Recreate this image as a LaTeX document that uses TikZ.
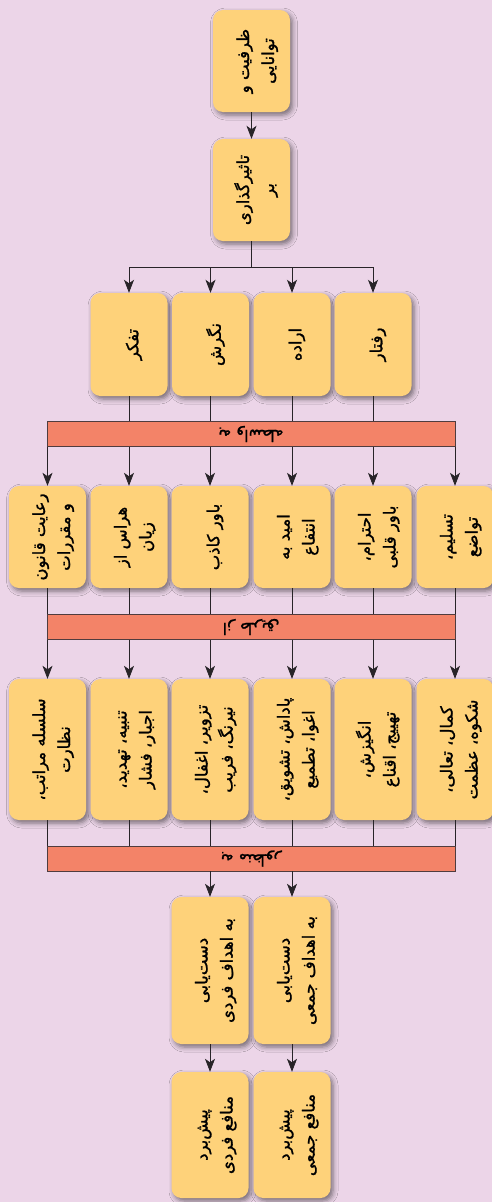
\documentclass[tikz,border=0pt]{standalone}
\usepackage{fontspec}
\newfontfamily\fa[Script=Arabic,FakeBold=1.3]{DejaVu Sans}
\TeXXeTstate=1
\usetikzlibrary{arrows.meta,shadows.blur}

\definecolor{bg}{RGB}{236,213,232}
\definecolor{boxfill}{RGB}{254,210,122}
\definecolor{barfill}{RGB}{243,131,104}
\definecolor{barline}{RGB}{80,60,62}
\definecolor{wire}{RGB}{40,36,40}

% text turned a quarter turn, first line on the left, set a little right of centre
\newcommand\vone[1]{\hspace*{10pt}\rotatebox{90}{#1}}
\newcommand\vtwo[2]{\hspace*{10pt}\rotatebox{90}{\begin{tabular}{@{}c@{}}#1\\#2\end{tabular}}}
% bar captions, turned upside down
\newcommand\flip[1]{\rotatebox{180}{#1}}

\tikzset{
  box/.style={fill=boxfill, rounded corners=10pt, minimum width=77pt, inner sep=0pt,
    blur shadow={shadow xshift=2.5pt, shadow yshift=-3pt, shadow blur radius=5pt, shadow opacity=50},
    font=\fa\fontsize{16.5}{25}\selectfont},
  bar/.style={fill=barfill, draw=barline, line width=0.8pt, minimum width=408pt,
    minimum height=25pt, inner sep=0pt, font=\fa\fontsize{16}{18}\selectfont},
  wire/.style={draw=wire, line width=0.8pt},
  arr/.style={wire, -{Stealth[length=13pt,width=10pt,inset=3.5pt]}},
}

\begin{document}
\begin{tikzpicture}[x=1pt,y=-1pt]
\fill[bg] (0,0) rectangle (492,1202);
\useasboundingbox (0,0) rectangle (492,1202);

% source chain
\node[box, minimum height=102pt] (p1) at (251.5,61) {\vtwo{\beginR ظرفیت و\endR}{\beginR توانایی\endR}};
\node[box, minimum height=102pt] (p2) at (251.5,190) {\vtwo{\beginR تاثیرگذاری\endR}{\beginR بر\endR}};

% four targets
\node[box, minimum height=103pt] (t1) at (129,344.5) {\vone{\beginR تفکر\endR}};
\node[box, minimum height=103pt] (t2) at (210.5,344.5) {\vone{\beginR نگرش\endR}};
\node[box, minimum height=103pt] (t3) at (292,344.5) {\vone{\beginR اراده\endR}};
\node[box, minimum height=103pt] (t4) at (373,344.5) {\vone{\beginR رفتار\endR}};

\node[bar] (b1) at (251,434) {\flip{\beginR به واسطه\endR}};

% bases
\node[box, minimum height=102pt] (s1) at (47.5,537) {\vtwo{\beginR رعایت قانون\endR}{\beginR و مقررات\endR}};
\node[box, minimum height=102pt] (s2) at (129,537) {\vtwo{\beginR هراس از\endR}{\beginR زیان\endR}};
\node[box, minimum height=102pt] (s3) at (210,537) {\vone{\beginR باور کاذب\endR}};
\node[box, minimum height=102pt] (s4) at (292,537) {\vtwo{\beginR امید به\endR}{\beginR انتفاع\endR}};
\node[box, minimum height=102pt] (s5) at (373,537) {\vtwo{\beginR احترام،\endR}{\beginR باور قلبی\endR}};
\node[box, minimum height=102pt] (s6) at (455,537) {\vtwo{\beginR تسلیم،\endR}{\beginR تواضع\endR}};

\node[bar] (b2) at (251,627) {\flip{\beginR از طریق\endR}};

% means
\node[box, minimum height=141pt] (m1) at (47.5,749.5) {\vtwo{\beginR سلسله مراتب،\endR}{\beginR نظارت\endR}};
\node[box, minimum height=141pt] (m2) at (129,749.5) {\vtwo{\beginR تنبیه، تهدید،\endR}{\beginR اجبار، فشار\endR}};
\node[box, minimum height=141pt] (m3) at (210,749.5) {\vtwo{\beginR تزویر، اغفال،\endR}{\beginR نیرنگ، فریب\endR}};
\node[box, minimum height=141pt] (m4) at (292,749.5) {\vtwo{\beginR پاداش، تشویق،\endR}{\beginR اغوا، تطمیع\endR}};
\node[box, minimum height=141pt] (m5) at (373,749.5) {\vtwo{\beginR انگیزش،\endR}{\beginR تهییج، اقناع\endR}};
\node[box, minimum height=141pt] (m6) at (455,749.5) {\vtwo{\beginR کمال، تعالی،\endR}{\beginR شکوه، عظمت\endR}};

\node[bar] (b3) at (251,858.5) {\flip{\beginR به منظور\endR}};

% goals and interests
\node[box, minimum height=147pt] (g1) at (210,970.5) {\vtwo{\beginR دست‌یابی\endR}{\beginR به اهداف فردی\endR}};
\node[box, minimum height=147pt] (g2) at (292,970.5) {\vtwo{\beginR دست‌یابی\endR}{\beginR به اهداف جمعی\endR}};
\node[box, minimum height=126pt] (e1) at (210,1135) {\vtwo{\beginR پیش‌برد\endR}{\beginR منافع فردی\endR}};
\node[box, minimum height=126pt] (e2) at (292,1135) {\vtwo{\beginR پیش‌برد\endR}{\beginR منافع جمعی\endR}};

% connectors
\coordinate (split) at (251.5,267);
\coordinate (hl) at (129,267);
\coordinate (hr) at (373,267);
\draw[arr] (p1) -- (p2);
\draw[wire] (p2) -- (split);
\draw[wire] (hl) -- (hr);
\foreach \t in {t1,t2,t3,t4}{
  \draw[arr] (\t |- split) -- (\t);
  \draw[wire] (\t) -- (\t |- b1.north);
}
\foreach \s/\m in {s1/m1,s2/m2,s3/m3,s4/m4,s5/m5,s6/m6}{
  \draw[arr] (\s |- b1.south) -- (\s);
  \draw[wire] (\s) -- (\s |- b2.north);
  \draw[arr] (\m |- b2.south) -- (\m);
  \draw[wire] (\m) -- (\m |- b3.north);
}
\draw[arr] (g1 |- b3.south) -- (g1);
\draw[arr] (g2 |- b3.south) -- (g2);
\draw[arr] (g1) -- (e1);
\draw[arr] (g2) -- (e2);
\end{tikzpicture}
\end{document}
